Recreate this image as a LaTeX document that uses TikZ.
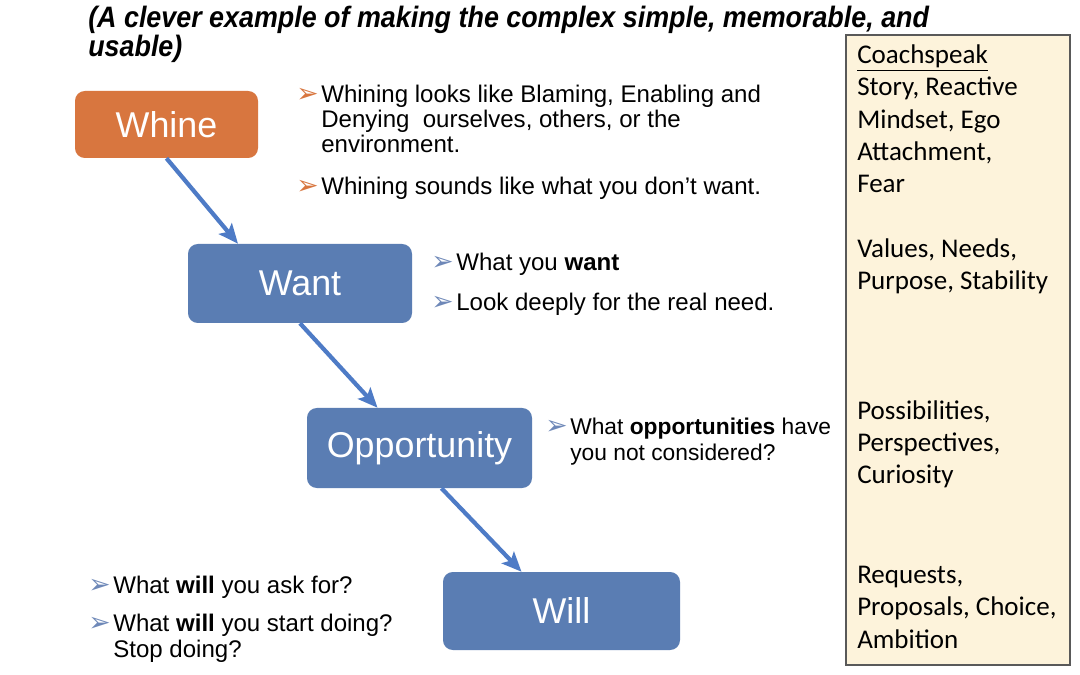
\documentclass[tikz,border=0pt]{standalone}
\usepackage{fontspec}
\setmainfont{Liberation Sans}
\newfontfamily\titlefont[FakeStretch=0.91]{Liberation Sans}
\newfontfamily\coachfont{Carlito}
\newfontfamily\symfont{DejaVu Sans}
\usetikzlibrary{arrows.meta,calc}
\definecolor{whineorange}{HTML}{D8763F}
\definecolor{boxblue}{HTML}{5A7DB3}
\definecolor{arrowblue}{HTML}{4E7BC6}
\definecolor{bulblue}{HTML}{6E88B8}
\definecolor{coachbg}{HTML}{FDF3DB}
\newcommand\pu{0.025cm}
\newcommand\bul[1]{\makebox[17.8pt][l]{\textcolor{#1}{\symfont\fontsize{19}{19}\selectfont\char"27A2}}}
\newcommand\ind{\hspace*{17.8pt}}
\tikzset{
  stagebox/.style={rounded corners=7pt, text=white, inner sep=0pt,
    font=\fontsize{25.5}{30}\selectfont},
  flowarrow/.style={arrowblue, line width=3pt,
    -{Stealth[length=14pt,width=12pt,inset=3pt]}},
  bullets/.style={anchor=base west, align=left, inner sep=0pt,
    font=\fontsize{17.1}{17.8}\selectfont},
  coach/.style={anchor=base west, align=left, inner sep=0pt,
    font=\coachfont\fontsize{19.2}{23}\selectfont},
}
\begin{document}
\begin{tikzpicture}[x=\pu, y=-\pu]
	\fill[white] (0,0) rectangle (1080,675);
	\useasboundingbox (0,0) rectangle (1080,675);
	% title (base = last line)
	\node[anchor=base west, align=left, inner sep=0pt,
	  font=\titlefont\bfseries\itshape\fontsize{21}{21.3}\selectfont] (title) at (88,57)
	  {(A clever example of making the complex simple, memorable, and\\usable)};
	% coachspeak column
	\draw[fill=coachbg, draw=black!65, line width=0.9pt] (846,35) rectangle (1070,665);
	\node[coach] (cs1) at (857,193) {\underline{Coachspeak}\\Story, Reactive\\Mindset, Ego\\Attachment,\\Fear};
	\node[coach] (cs2) at (857,290) {Values, Needs,\\Purpose, Stability};
	\node[coach] (cs3) at (857,484) {Possibilities,\\Perspectives,\\Curiosity};
	\node[coach] (cs4) at (857,648) {Requests,\\Proposals, Choice,\\Ambition};
	% the four stages
	\node[stagebox, fill=whineorange, minimum width=183*\pu, minimum height=67*\pu] (whine) at (166.5,124.5) {Whine};
	\node[stagebox, fill=boxblue, minimum width=224*\pu, minimum height=79*\pu] (want) at (300,283.5) {Want};
	\node[stagebox, fill=boxblue, minimum width=225*\pu, minimum height=80*\pu] (opp) at (419.5,448) {Opportunity};
	\node[stagebox, fill=boxblue, minimum width=237*\pu, minimum height=78*\pu] (will) at (561.5,611) {Will};
	\draw[flowarrow] (whine.south) -- ($(want.north)+(-62,0)$);
	\draw[flowarrow] (want.south) -- ($(opp.north)+(-42,0)$);
	\draw[flowarrow] ($(opp.south)+(22,0)$) -- ($(will.north)+(-40,0)$);
	% bullet texts
	\node[bullets] (whine1) at (296,153) {\bul{whineorange}Whining looks like Blaming, Enabling and\\\ind Denying\ \ ourselves, others, or the\\\ind environment.};
	\node[bullets] (whine2) at (296,195) {\bul{whineorange}Whining sounds like what you don't want.};
	\node[bullets] (want1) at (431,271) {\bul{bulblue}What you \textbf{want}};
	\node[bullets] (want2) at (431,311) {\bul{bulblue}Look deeply for the real need.};
	\node[bullets, font=\fontsize{16.2}{17.8}\selectfont] (opp1) at (545,460) {\bul{bulblue}What \textbf{opportunities} have\\\ind you not considered?};
	\node[bullets] (will1) at (88,593) {\bul{bulblue}What \textbf{will} you ask for?};
	\node[bullets] (will2) at (88,657) {\bul{bulblue}What \textbf{will} you start doing?\\\ind Stop doing?};
\end{tikzpicture}
\end{document}
